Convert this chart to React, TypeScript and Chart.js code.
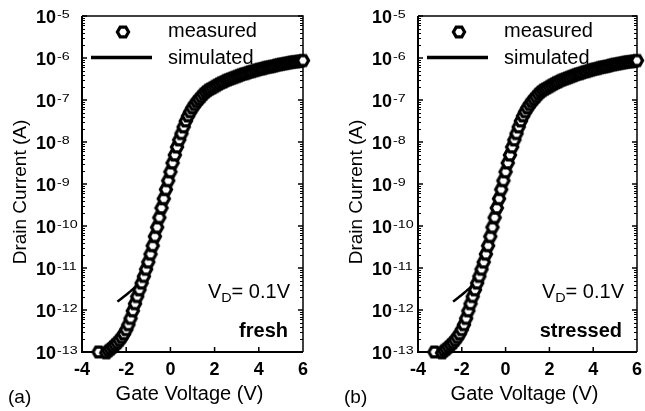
import React, { useEffect, useRef } from "react";
import { Chart, registerables } from "chart.js";

Chart.register(...registerables);

// Gate voltage (V) of the measured points
const gateVoltage = [
  -3.25, -2.9, -2.8, -2.7, -2.6, -2.5, -2.4, -2.3, -2.2, -2.1, -2.0, -1.9, -1.8, -1.7, -1.6, -1.5, -1.4, -1.3, -1.2, -1.1,
  -1.0, -0.9, -0.8, -0.7, -0.6, -0.5, -0.4, -0.3, -0.2, -0.1, 0.0, 0.1, 0.2, 0.3, 0.4, 0.5, 0.6, 0.7, 0.8, 0.9,
  1.0, 1.1, 1.2, 1.3, 1.4, 1.5, 1.6, 1.7, 1.8, 1.9, 2.0, 2.1, 2.2, 2.3, 2.4, 2.5, 2.6, 2.7, 2.8, 2.9,
  3.0, 3.1, 3.2, 3.3, 3.4, 3.5, 3.6, 3.7, 3.8, 3.9, 4.0, 4.1, 4.2, 4.3, 4.4, 4.5, 4.6, 4.7, 4.8, 4.9,
  5.0, 5.1, 5.2, 5.3, 5.4, 5.5, 5.6, 5.7, 5.8, 5.9, 6.0,
];
// log10 of measured drain current (A)
const measuredLogCurrent = [
  -13.0, -13.02, -12.97, -12.93, -12.88, -12.83, -12.78, -12.72, -12.65, -12.57, -12.47, -12.35, -12.2, -12.02, -11.85, -11.68, -11.52, -11.36, -11.2, -11.03,
  -10.86, -10.67, -10.47, -10.25, -10.03, -9.8, -9.57, -9.35, -9.13, -8.92, -8.71, -8.5, -8.31, -8.12, -7.95, -7.8, -7.64, -7.5, -7.38, -7.28,
  -7.19, -7.11, -7.04, -6.98, -6.92, -6.86, -6.81, -6.77, -6.74, -6.71, -6.68, -6.65, -6.62, -6.59, -6.57, -6.54, -6.52, -6.5, -6.48, -6.46,
  -6.44, -6.42, -6.4, -6.38, -6.37, -6.35, -6.33, -6.32, -6.3, -6.29, -6.27, -6.26, -6.25, -6.23, -6.22, -6.21, -6.2, -6.19, -6.17, -6.16,
  -6.15, -6.14, -6.13, -6.12, -6.11, -6.1, -6.09, -6.09, -6.08, -6.07, -6.06,
];
// Simulated curve
const simVoltage = [-2.4, -2.1, -1.8, -1.5, -1.3, -1.1, -0.8, -0.5, -0.2, 0.1, 0.4, 0.7, 1.0, 1.5, 2.0, 3.0, 4.0, 5.0, 6.0];
const simLogCurrent = [-11.8, -11.68, -11.55, -11.42, -11.3, -11.05, -10.5, -9.82, -9.15, -8.5, -7.97, -7.58, -7.3, -6.95, -6.77, -6.53, -6.36, -6.24, -6.15];

const xTickValues = [-4, -2, 0, 2, 4, 6];
const yDecades = [-13, -12, -11, -10, -9, -8, -7, -6, -5];
const panelTags = ["(a)", "(b)"];
const panelStates = ["fresh", "stressed"];

const FONT = '"Liberation Sans", Arial, Helvetica, sans-serif';
const H = 411;
const FRAME_L = 82;
const FRAME_R = 303;
const FRAME_T = 16;
const FRAME_B = 352;

function makeHexagon(): HTMLCanvasElement {
  const c = document.createElement("canvas");
  const s = 20;
  c.width = s;
  c.height = s;
  const ctx = c.getContext("2d")!;
  const r = 5.6;
  ctx.beginPath();
  for (let i = 0; i < 6; i++) {
    const a = (Math.PI / 3) * i;
    const px = s / 2 + r * Math.cos(a);
    const py = s / 2 + r * Math.sin(a);
    if (i === 0) ctx.moveTo(px, py);
    else ctx.lineTo(px, py);
  }
  ctx.closePath();
  ctx.fillStyle = "#fff";
  ctx.fill();
  ctx.lineWidth = 3.2;
  ctx.strokeStyle = "#000";
  ctx.stroke();
  return c;
}

function Panel({ left, width, tag, state }: { left: number; width: number; tag: string; state: string }) {
  const ref = useRef<HTMLCanvasElement>(null);
  useEffect(() => {
    const canvas = ref.current!;
    const hex = makeHexagon();
    const framePlugin = {
      id: "framePlugin",
      beforeDatasetsDraw(chart: any) {
        const ctx = chart.ctx as CanvasRenderingContext2D;
        const xs = chart.scales.x;
        const ys = chart.scales.y;
        const l = xs.getPixelForValue(-4);
        const r = xs.getPixelForValue(6);
        const t = ys.getPixelForValue(1e-5);
        const b = ys.getPixelForValue(1e-13);
        ctx.save();
        ctx.strokeStyle = "#000";
        ctx.lineWidth = 1.5;
        ctx.beginPath();
        ctx.moveTo(l, t);
        ctx.lineTo(r, t);
        ctx.lineTo(r, b);
        ctx.stroke();
        ctx.lineWidth = 2;
        ctx.beginPath();
        ctx.moveTo(l, t);
        ctx.lineTo(l, b);
        ctx.lineTo(r, b);
        ctx.stroke();
        for (const d of yDecades) {
          const y = ys.getPixelForValue(Math.pow(10, d));
          ctx.lineWidth = 1.5;
          ctx.beginPath();
          ctx.moveTo(l, y);
          ctx.lineTo(l + 5, y);
          ctx.moveTo(r, y);
          ctx.lineTo(r - 5, y);
          ctx.stroke();
          if (d < -5) {
            ctx.lineWidth = 1;
            ctx.beginPath();
            for (let m = 2; m <= 9; m++) {
              const ym = Math.round(ys.getPixelForValue(m * Math.pow(10, d))) + 0.5;
              ctx.moveTo(l, ym);
              ctx.lineTo(l + 3, ym);
              ctx.moveTo(r, ym);
              ctx.lineTo(r - 3, ym);
            }
            ctx.stroke();
          }
        }
        ctx.lineWidth = 1.5;
        ctx.beginPath();
        for (const v of xTickValues) {
          if (v === -4 || v === 6) continue;
          const x = xs.getPixelForValue(v);
          ctx.moveTo(x, b);
          ctx.lineTo(x, b - 5);
        }
        ctx.stroke();
        ctx.restore();
      },
      afterDraw(chart: any) {
        const ctx = chart.ctx as CanvasRenderingContext2D;
        const xs = chart.scales.x;
        const ys = chart.scales.y;
        const l = xs.getPixelForValue(-4);
        const r = xs.getPixelForValue(6);
        const t = ys.getPixelForValue(1e-5);
        const b = ys.getPixelForValue(1e-13);
        ctx.save();
        ctx.fillStyle = "#000";
        ctx.textBaseline = "alphabetic";
        for (const d of yDecades) {
          const y = ys.getPixelForValue(Math.pow(10, d));
          ctx.font = `bold 18px ${FONT}`;
          ctx.textAlign = "left";
          ctx.fillText("10", 36, y + 6.5);
          const w = ctx.measureText("10").width;
          ctx.save();
          ctx.translate(36 + w + 1, y + 1.5);
          ctx.scale(1.3, 1);
          ctx.font = `11px ${FONT}`;
          ctx.fillText(String(d), 0, 0);
          ctx.restore();
        }
        ctx.font = `bold 18px ${FONT}`;
        ctx.textAlign = "center";
        for (const v of xTickValues) {
          ctx.fillText(String(v), xs.getPixelForValue(v), 375);
        }
        ctx.font = `20px ${FONT}`;
        ctx.fillText("Gate Voltage (V)", (l + r) / 2 - 3, 400);
        ctx.save();
        ctx.translate(25.5, (t + b) / 2 + 8);
        ctx.rotate(-Math.PI / 2);
        ctx.font = `19px ${FONT}`;
        ctx.textAlign = "center";
        ctx.fillText("Drain Current (A)", 0, 0);
        ctx.restore();
        ctx.font = `19px ${FONT}`;
        ctx.textAlign = "left";
        ctx.fillText(tag, 8, 403);
        ctx.font = `20px ${FONT}`;
        const rest = "= 0.1V";
        const wV = ctx.measureText("V").width;
        const wRest = ctx.measureText(rest).width;
        ctx.font = `12px ${FONT}`;
        const wD = ctx.measureText("D").width * 1.2;
        const endX = r - 13;
        const startX = endX - wRest - wD - wV;
        ctx.font = `20px ${FONT}`;
        ctx.fillText("V", startX, 298);
        ctx.save();
        ctx.translate(startX + wV, 302);
        ctx.scale(1.2, 1);
        ctx.font = `12px ${FONT}`;
        ctx.fillText("D", 0, 0);
        ctx.restore();
        ctx.font = `20px ${FONT}`;
        ctx.fillText(rest, startX + wV + wD, 298);
        ctx.font = `bold 20px ${FONT}`;
        ctx.textAlign = "right";
        ctx.fillText(state, r - 15, 337);
        ctx.drawImage(hex, l + 41 - hex.width / 2, 32 - hex.height / 2);
        ctx.strokeStyle = "#000";
        ctx.lineWidth = 3.5;
        ctx.beginPath();
        ctx.moveTo(l + 9, 57.5);
        ctx.lineTo(l + 70, 57.5);
        ctx.stroke();
        ctx.font = `20px ${FONT}`;
        ctx.textAlign = "left";
        ctx.fillText("measured", l + 86, 37);
        ctx.fillText("simulated", l + 86, 63.5);
        ctx.restore();
      },
    };

    const chart = new Chart(canvas, {
      type: "line",
      data: {
        datasets: [
          {
            label: "measured",
            data: gateVoltage.map((v, i) => ({ x: v, y: Math.pow(10, measuredLogCurrent[i]) })),
            showLine: false,
            pointStyle: hex as any,
            pointRadius: 7,
            borderColor: "#000",
            backgroundColor: "#fff",
            clip: false as any,
          },
          {
            label: "simulated",
            data: simVoltage.map((v, i) => ({ x: v, y: Math.pow(10, simLogCurrent[i]) })),
            borderColor: "#000",
            borderWidth: 2.5,
            pointRadius: 0,
            fill: false,
            cubicInterpolationMode: "monotone",
          },
        ],
      },
      options: {
        responsive: false,
        animation: false,
        events: [],
        layout: {
          padding: { left: FRAME_L, right: width - FRAME_R, top: FRAME_T, bottom: H - FRAME_B },
        },
        scales: {
          x: { type: "linear", min: -4, max: 6, display: false },
          y: { type: "logarithmic", min: 1e-13, max: 1e-5, display: false },
        },
        plugins: { legend: { display: false }, tooltip: { enabled: false } },
      },
      plugins: [framePlugin],
    } as any);
    return () => chart.destroy();
  }, [width, tag, state]);
  return (
    <canvas
      ref={ref}
      width={width}
      height={H}
      style={{ position: "absolute", left, top: 0, width, height: H }}
    />
  );
}

export default function App() {
  return (
    <div style={{ position: "fixed", left: 0, top: 0, width: 645, height: H, background: "#fff" }}>
      <Panel left={0} width={336} tag={panelTags[0]} state={panelStates[0]} />
      <Panel left={336} width={309} tag={panelTags[1]} state={panelStates[1]} />
    </div>
  );
}
